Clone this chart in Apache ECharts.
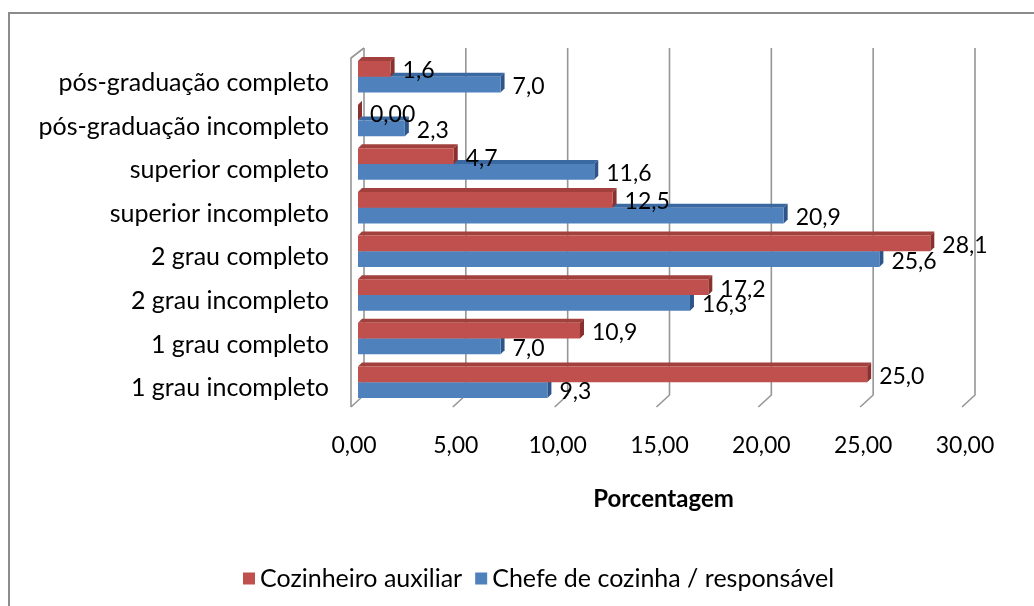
<!DOCTYPE html>
<html>
<head>
<meta charset="utf-8">
<script src="https://cdn.jsdelivr.net/npm/echarts@6/dist/echarts.min.js"></script>
<style>
  html, body { margin: 0; padding: 0; background: #fff; }
  #chart { width: 1034px; height: 606px; }
</style>
</head>
<body>
<div id="chart"></div>
<script>
// categorias (de baixo para cima)
var categories = ['1 grau incompleto', '1 grau completo', '2 grau incompleto', '2 grau completo',
	'superior incompleto', 'superior completo', 'pós-graduação incompleto', 'pós-graduação completo'];
var cozinheiro = [25.0, 10.9, 17.2, 28.1, 12.5, 4.7, 0.0, 1.6];
var chefe = [9.3, 7.0, 16.3, 25.6, 20.9, 11.6, 2.3, 7.0];
var ticks = [0, 5, 10, 15, 20, 25, 30];

var FONT = 'Lato';

function fmt(v) {
	return v === 0 ? '0,00' : v.toFixed(1).replace('.', ',');
}

// barra "3D" no estilo do Excel
function barRenderer(upper, front, topFace, sideFace, zz) {
	return function (params, api) {
		var v = api.value(0), i = api.value(1);
		var p0 = api.coord([0, i]);
		var p1 = api.coord([v, i]);
		var h = api.size([0, 1])[1] * 0.36;
		var d = 4;
		var y0 = upper ? p0[1] - h : p0[1];
		var y1 = y0 + h;
		var x0 = p0[0], x1 = p1[0];
		return {
			type: 'group',
			children: [
				{ type: 'polygon', z2: zz, shape: { points: [[x0, y0], [x0 + d, y0 - d], [x1 + d, y0 - d], [x1, y0]] }, style: { fill: topFace } },
				{ type: 'polygon', z2: zz, shape: { points: [[x1, y0], [x1 + d, y0 - d], [x1 + d, y1 - d], [x1, y1]] }, style: { fill: sideFace } },
				{ type: 'rect', z2: zz, shape: { x: x0, y: y0, width: x1 - x0, height: h }, style: { fill: front } },
				{ type: 'text', z2: 10, x: x1 + 12, y: (y0 + y1) / 2 + 2,
					style: { text: fmt(v), fill: '#000', fontSize: 23, fontFamily: FONT, verticalAlign: 'middle', align: 'left' } }
			]
		};
	};
}

// linhas de grade inclinadas (parede do fundo)
function gridRenderer(params, api) {
	var cs = params.coordSys;
	var x = api.coord([api.value(0), 0])[0];
	var top = cs.y - 7, bottom = cs.y + cs.height - 9, foot = cs.y + cs.height + 3;
	var pts = [[x - 7, foot], [x + 6, bottom], [x + 6, top]];
	var children = [{ type: 'polyline', shape: { points: pts }, style: { stroke: '#969696', lineWidth: 1.6, fill: null } }];
	if (api.value(0) === 0) {
		children.push({ type: 'polyline', shape: { points: [[x - 7, foot], [x - 7, top + 10], [x + 6, top]] },
			style: { stroke: '#969696', lineWidth: 1.6, fill: null } });
	}
	return { type: 'group', children: children };
}

var myChart = echarts.init(document.getElementById('chart'));

var option = {
	backgroundColor: '#fff',
	animation: false,
	textStyle: { fontFamily: FONT },
	graphic: [
		{ type: 'rect', shape: { x: 9, y: 13, width: 1040, height: 610 }, style: { fill: null, stroke: '#8c8c8c', lineWidth: 2 } }
	],
	grid: { left: 358, right: 65, top: 55, bottom: 202 },
	legend: {
		data: ['Cozinheiro auxiliar', 'Chefe de cozinha / responsável'],
		left: 238,
		top: 561,
		icon: 'rect',
		itemWidth: 12,
		itemHeight: 12,
		itemGap: 13,
		textStyle: { fontSize: 25, fontFamily: FONT, color: '#000' }
	},
	xAxis: {
		type: 'value',
		min: 0,
		max: 30,
		interval: 5,
		name: 'Porcentagem',
		nameLocation: 'middle',
		nameGap: 83,
		nameTextStyle: { fontSize: 24, fontWeight: 'bold', fontFamily: FONT, color: '#000' },
		axisLine: { show: false },
		axisTick: { show: false },
		splitLine: { show: false },
		axisLabel: {
			margin: 30,
			padding: [0, 8, 0, 0],
			fontSize: 23,
			fontFamily: FONT,
			color: '#000',
			formatter: function (v) { return v.toFixed(2).replace('.', ','); }
		}
	},
	yAxis: {
		type: 'category',
		data: categories,
		axisLine: { show: false },
		axisTick: { show: false },
		splitLine: { show: false },
		axisLabel: { margin: 29, verticalAlign: 'top', lineHeight: 12, fontSize: 25, fontFamily: FONT, color: '#000' }
	},
	series: [
		{
			type: 'custom',
			name: 'grade',
			z: 1,
			silent: true,
			renderItem: gridRenderer,
			encode: { x: 0, y: 1 },
			data: ticks.map(function (t) { return [t, 0]; })
		},
		{
			type: 'custom',
			name: 'Chefe de cozinha / responsável',
			z: 2,
			itemStyle: { color: '#4F81BD' },
			renderItem: barRenderer(false, '#4F81BD', '#3A68A0', '#2E5589', 1),
			encode: { x: 0, y: 1 },
			data: chefe.map(function (v, i) { return [v, i]; })
		},
		{
			type: 'custom',
			name: 'Cozinheiro auxiliar',
			z: 2,
			itemStyle: { color: '#C0504D' },
			renderItem: barRenderer(true, '#C0504D', '#A2403D', '#8A302E', 2),
			encode: { x: 0, y: 1 },
			data: cozinheiro.map(function (v, i) { return [v, i]; })
		}
	]
};

myChart.setOption(option);
</script>
</body>
</html>
